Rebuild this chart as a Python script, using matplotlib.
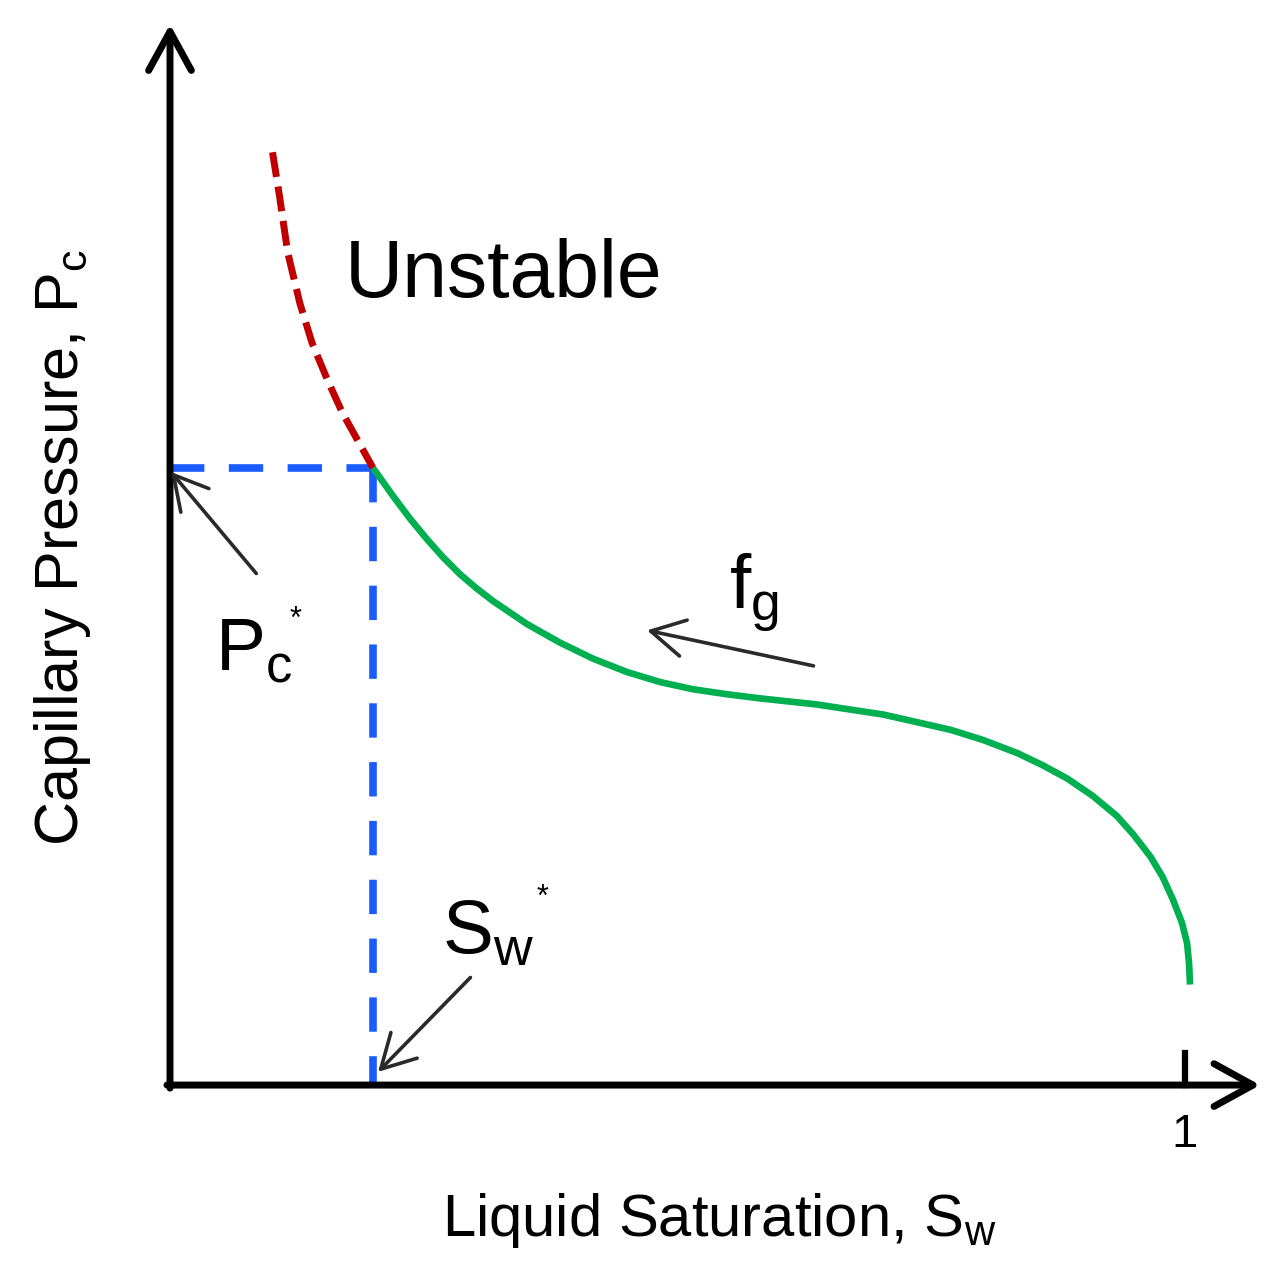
import numpy as np
import matplotlib.pyplot as plt

plt.rcParams['font.family'] = ['Liberation Sans', 'DejaVu Sans']

# curve (Sw, Pc), scaled so that Sw = 1 at the end tick
sw_unstable = [0.101, 0.108, 0.116, 0.128, 0.140, 0.155, 0.170, 0.185, 0.200]
pc_unstable = [0.919, 0.875, 0.820, 0.770, 0.731, 0.695, 0.662, 0.635, 0.608]

sw_stable = [0.200, 0.210, 0.220, 0.2365, 0.253, 0.269, 0.286, 0.3025, 0.318,
             0.352, 0.384, 0.417, 0.450, 0.483, 0.515, 0.549, 0.581,
             0.637, 0.703, 0.769, 0.801, 0.835, 0.860, 0.884, 0.909,
             0.933, 0.949, 0.966, 0.978, 0.988, 0.997, 1.002, 1.004, 1.005]
pc_stable = [0.608, 0.594, 0.580, 0.558, 0.538, 0.520, 0.503, 0.489, 0.477,
             0.454, 0.436, 0.420, 0.407, 0.397, 0.390, 0.385, 0.381,
             0.375, 0.365, 0.350, 0.340, 0.327, 0.315, 0.302, 0.285,
             0.265, 0.247, 0.225, 0.205, 0.183, 0.160, 0.140, 0.120, 0.099]

sw_star = 0.200
pc_star = 0.608

fig = plt.figure(figsize=(12.88, 12.83), dpi=100)
ax = fig.add_axes([0, 0, 1, 1])
ax.set_xlim(-0.1675, 1.1015)
ax.set_ylim(-0.195, 1.069)
ax.axis('off')

# axes with arrow heads
axis_kw = dict(arrowstyle='->, head_length=0.4, head_width=0.22', lw=5, color='black',
               mutation_scale=70, shrinkA=0, shrinkB=0)
ax.annotate('', xy=(0, 1.045), xytext=(0, -0.003), arrowprops=axis_kw)
ax.annotate('', xy=(1.074, 0), xytext=(-0.003, 0), arrowprops=axis_kw)
ax.plot([1, 1], [0, 0.032], color='black', lw=4.5)
ax.text(1.0, -0.049, '1', ha='center', va='center', fontsize=34)

# guide lines to the critical point
ax.plot([0, sw_star], [pc_star, pc_star], color='#1a5cff', lw=5.5, dashes=(4.5, 3.2))
ax.plot([sw_star, sw_star], [pc_star, 0], color='#1a5cff', lw=5.5, dashes=(4.5, 3.2))

# capillary pressure curve
ax.plot(sw_unstable, pc_unstable, color='#c00000', lw=5, dashes=(3.6, 1.4))
ax.plot(sw_stable, pc_stable, color='#00b050', lw=4.8, solid_capstyle='butt',
        solid_joinstyle='round')

# labels
ax.text(0.329, 0.797, 'Unstable', fontsize=58, ha='center', va='center')
ax.text(0.044, 0.409, r'P$_\mathregular{c}$', fontsize=54, ha='left', va='baseline')
ax.text(0.124, 0.458, '*', fontsize=22, ha='center', va='center')
ax.text(0.268, 0.130, r'S$_\mathregular{w}$', fontsize=55, ha='left', va='baseline')
ax.text(0.367, 0.184, '*', fontsize=22, ha='center', va='center')
ax.text(0.551, 0.470, r'f$_\mathregular{g}$', fontsize=55, ha='left', va='baseline')

arrow_kw = dict(arrowstyle='->, head_length=0.4, head_width=0.22', lw=2.6,
                color='#2a2a2a', mutation_scale=60, shrinkA=0, shrinkB=0)
ax.annotate('', xy=(0.001, 0.604), xytext=(0.085, 0.504), arrowprops=arrow_kw)
ax.annotate('', xy=(0.205, 0.013), xytext=(0.296, 0.106), arrowprops=arrow_kw)
ax.annotate('', xy=(0.470, 0.448), xytext=(0.634, 0.413), arrowprops=arrow_kw)

ax.text(0.541, -0.133, r'Liquid Saturation, S$_\mathregular{w}$', fontsize=43,
        ha='center', va='center')
ax.text(-0.106, 0.530, r'Capillary Pressure, P$_\mathregular{c}$', fontsize=44,
        ha='center', va='center', rotation=90)

fig.savefig('out.png', dpi=100)
